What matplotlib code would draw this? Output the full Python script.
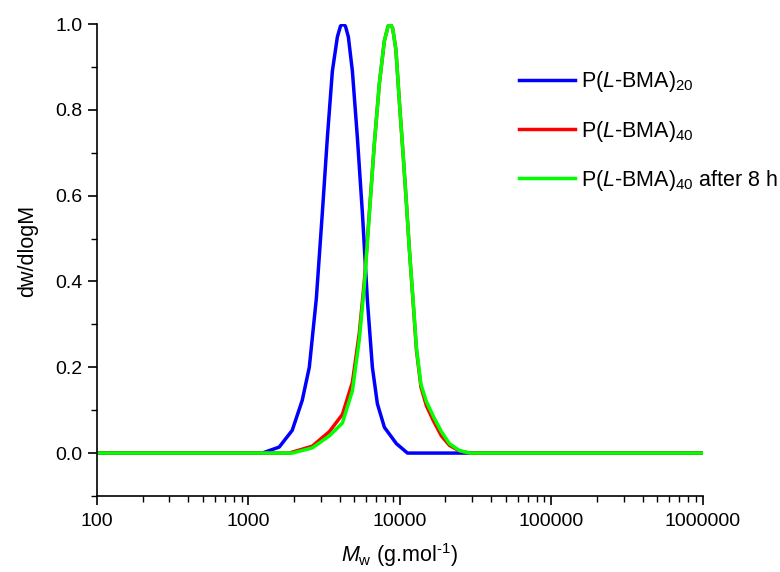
import matplotlib
matplotlib.use("Agg")
import matplotlib.pyplot as plt
from matplotlib.ticker import LogLocator, FixedLocator, FuncFormatter

plt.rcParams['font.family'] = ['Liberation Sans', 'DejaVu Sans']
plt.rcParams['mathtext.fontset'] = 'custom'
plt.rcParams['mathtext.rm'] = 'Liberation Sans'
plt.rcParams['mathtext.it'] = 'Liberation Sans:italic'

# molar mass (g/mol) and normalised dw/dlogM
m_20 = [100, 1233, 1596, 1945, 2265, 2522, 2806, 3075, 3318, 3580, 3865, 4050,
        4200, 4370, 4567, 4856, 5239, 5653, 6099, 6580, 7099, 7900, 9480, 11220,
        1000000]
w_20 = [0, 0, 0.014, 0.053, 0.123, 0.2, 0.36, 0.56, 0.735, 0.89, 0.97, 0.995,
        1.0, 0.995, 0.97, 0.89, 0.735, 0.56, 0.356, 0.2, 0.115, 0.06, 0.022, 0,
        0]

m_40 = [100, 1858, 2636, 3420, 4170, 4856, 5395, 5821, 6281, 6776, 7311, 7888,
        8350, 8650, 8960, 9411, 9935, 10480, 11050, 11570, 12200, 12860, 13770,
        14970, 16660, 18800, 21230, 24730, 28810, 1000000]
w_40 = [0, 0, 0.016, 0.05, 0.09, 0.165, 0.28, 0.40, 0.56, 0.72, 0.86, 0.96,
        0.995, 1.0, 0.99, 0.94, 0.815, 0.70, 0.58, 0.47, 0.356, 0.24, 0.154,
        0.11, 0.075, 0.04, 0.018, 0.005, 0, 0]

m_40_8h = [100, 1950, 2636, 3420, 4170, 4856, 5395, 5821, 6281, 6776, 7311, 7888,
           8350, 8650, 8960, 9411, 9935, 10480, 11050, 11570, 12200, 12860, 13770,
           14970, 16660, 18800, 21230, 24730, 28810, 1000000]
w_40_8h = [0, 0, 0.012, 0.04, 0.07, 0.145, 0.265, 0.39, 0.555, 0.72, 0.86, 0.96,
           0.995, 1.0, 0.99, 0.94, 0.815, 0.70, 0.58, 0.47, 0.36, 0.245, 0.16,
           0.12, 0.085, 0.05, 0.022, 0.006, 0, 0]

labels = [r"P($\mathit{L}$-BMA)$_{20}$",
          r"P($\mathit{L}$-BMA)$_{40}$",
          r"P($\mathit{L}$-BMA)$_{40}$ after 8 h"]

fig = plt.figure(figsize=(7.8, 5.72), dpi=100)
ax = fig.add_axes([0.1244, 0.1329, 0.7766, 0.8251])

ax.plot(m_20, w_20, color='#0000ff', lw=2.5, label=labels[0])
ax.plot(m_40, w_40, color='#ff0000', lw=2.5, label=labels[1])
ax.plot(m_40_8h, w_40_8h, color='#00ff00', lw=2.5, label=labels[2])

ax.set_xscale('log')
ax.set_xlim(100, 1000000)
ax.set_ylim(-0.1, 1.0)

ax.xaxis.set_major_locator(FixedLocator([100, 1000, 10000, 100000, 1000000]))
ax.xaxis.set_major_formatter(FuncFormatter(lambda v, p: f"{int(round(v))}"))
ax.xaxis.set_minor_locator(LogLocator(base=10, subs=range(2, 10), numticks=20))
ax.xaxis.set_minor_formatter(FuncFormatter(lambda v, p: ""))
ax.yaxis.set_major_locator(FixedLocator([0.0, 0.2, 0.4, 0.6, 0.8, 1.0]))
ax.yaxis.set_major_formatter(FuncFormatter(lambda v, p: f"{v:.1f}"))
ax.yaxis.set_minor_locator(FixedLocator([-0.1, 0.1, 0.3, 0.5, 0.7, 0.9]))

for s in ['top', 'right']:
    ax.spines[s].set_visible(False)
for s in ['left', 'bottom']:
    ax.spines[s].set_linewidth(1.2)

ax.tick_params(which='major', direction='out', length=6.5, width=1.2,
               labelsize=14)
ax.tick_params(axis='x', which='major', pad=6)
ax.tick_params(axis='y', which='major', pad=4)
ax.tick_params(which='minor', direction='out', length=4, width=1.0)

ax.set_ylabel("dw/dlogM", fontsize=15.5)
ax.yaxis.set_label_coords(-0.097, 0.52)
ax.set_xlabel(r"$\mathit{M}_{\mathrm{w}}$ (g.mol$^{\text{-1}}$)", fontsize=15.5)
ax.xaxis.set_label_coords(0.5, -0.095)

ax.legend(loc='upper left', bbox_to_anchor=(0.683, 0.922), frameon=False,
          fontsize=15.5, handlelength=2.6, handletextpad=0.25, labelspacing=1.12,
          borderaxespad=0)

fig.savefig("out.png", dpi=100)
